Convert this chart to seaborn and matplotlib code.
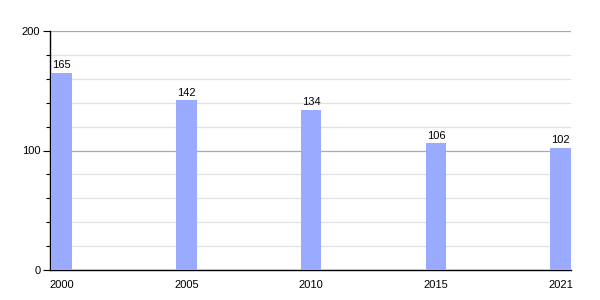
import matplotlib
matplotlib.use("Agg")
import matplotlib.pyplot as plt
from matplotlib.ticker import MultipleLocator
import seaborn as sns
import pandas as pd

years = ["2000", "2005", "2010", "2015", "2021"]
values = [165, 142, 134, 106, 102]

sns.set_theme(style="white")
plt.rcParams['font.family'] = ['Liberation Sans', 'DejaVu Sans']
plt.rcParams['text.color'] = 'black'
plt.rcParams['xtick.color'] = 'black'
plt.rcParams['ytick.color'] = 'black'

df = pd.DataFrame({"year": years, "value": values})

fig = plt.figure(figsize=(6, 3), dpi=100)
ax = fig.add_axes([50/600, 30/300, 521/600, 239/300])

w = 0.165
sns.barplot(data=df, x="year", y="value", color="#99aaff", saturation=1,
            width=w, ax=ax, zorder=3, linewidth=0, edgecolor="none")

ax.set_xlim(-w/2 - 0.01, len(years) - 1 + w/2)
ax.set_ylim(0, 200)
ax.yaxis.set_major_locator(MultipleLocator(100))
ax.yaxis.set_minor_locator(MultipleLocator(20))
ax.grid(which="major", axis="y", color="#aaaaaa", linewidth=0.9, zorder=0)
ax.grid(which="minor", axis="y", color="#e0e0e0", linewidth=0.9, zorder=0)
ax.set_axisbelow(True)

for s in ["top", "right"]:
    ax.spines[s].set_visible(False)
for s in ["left", "bottom"]:
    ax.spines[s].set_color("black")
    ax.spines[s].set_linewidth(1)

ax.tick_params(axis="y", which="major", left=True, length=5, width=0.8, color="black",
               labelsize=8, pad=2, labelcolor="black")
ax.tick_params(axis="y", which="minor", left=True, length=3, width=0.8, color="black")
ax.tick_params(axis="x", bottom=False, labelsize=8, pad=1, labelcolor="black")
ax.set_xlabel("")
ax.set_ylabel("")

for c in ax.containers:
    ax.bar_label(c, labels=[str(v) for v in values], fontsize=8, padding=2, color="black")

fig.savefig("out.png", dpi=100)
